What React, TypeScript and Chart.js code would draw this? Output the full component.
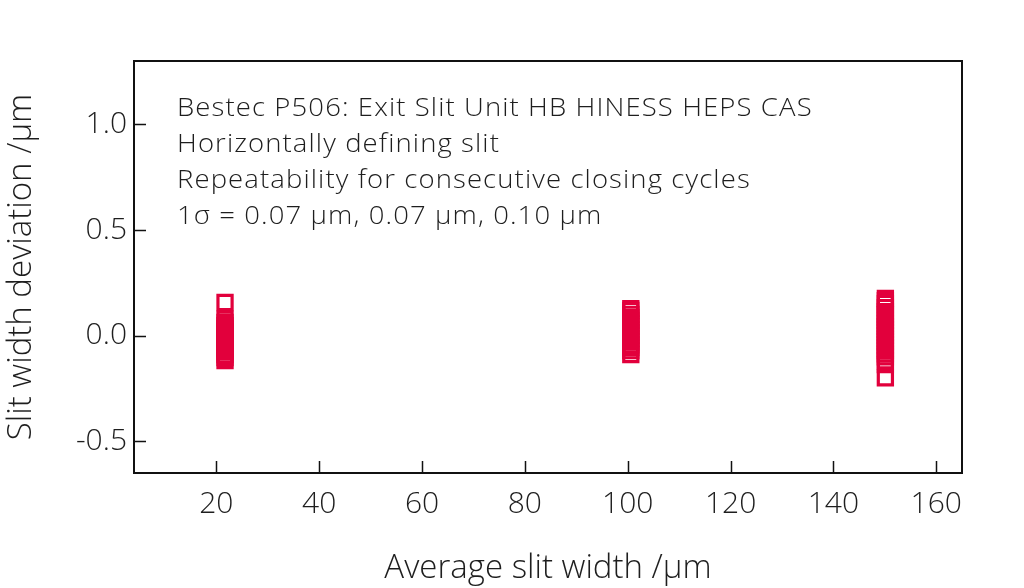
import React, { useEffect, useRef } from "react";
import { Chart, registerables } from "chart.js";

Chart.register(...registerables);

const xTicks = [20, 40, 60, 80, 100, 120, 140, 160];
const yTicks = [-0.5, 0.0, 0.5, 1.0];

const widthA = 21.7;
const widthB = 100.6;
const widthC = 150.1;

const devA = [0.157, 0.078, 0.063, 0.047, 0.034, 0.019, 0.006, -0.009, -0.019, -0.033, -0.046, -0.062, -0.075, -0.090, -0.104, -0.118];
const devB = [0.128, 0.119, 0.101, 0.085, 0.072, 0.056, 0.043, 0.027, 0.014, 0.001, -0.014, -0.029, -0.043, -0.056, -0.071, -0.089];
const devC = [0.176, 0.166, 0.152, 0.133, 0.114, 0.099, 0.086, 0.071, 0.056, 0.043, 0.029, 0.014, 0.000, -0.015, -0.028, -0.043, -0.057, -0.071, -0.086, -0.100, -0.119, -0.137, -0.199];

const noteLines = [
  "Bestec P506: Exit Slit Unit HB HINESS HEPS CAS",
  "Horizontally defining slit",
  "Repeatability for consecutive closing cycles",
  "1\u03c3 = 0.07 \u00b5m, 0.07 \u00b5m, 0.10 \u00b5m",
];

const xTitle = "Average slit width /\u00b5m";
const yTitle = "Slit width deviation /\u00b5m";

const RED = "#e2003c";
const INK = "#1e1e1e";
const FONT = "'Open Sans', 'Liberation Sans', Arial, sans-serif";

export default function App() {
  const ref = useRef<HTMLCanvasElement | null>(null);

  useEffect(() => {
    const canvas = ref.current;
    if (!canvas) return;

    const frame = {
      id: "frame",
      afterDraw(chart: any) {
        const { ctx, chartArea: a, scales } = chart;
        const xs = scales.x;
        const ys = scales.y;
        ctx.save();
        ctx.strokeStyle = "#111";
        ctx.lineWidth = 2;
        ctx.strokeRect(a.left, a.top, a.right - a.left, a.bottom - a.top);
        ctx.beginPath();
        for (const v of xTicks) {
          const px = Math.round(xs.getPixelForValue(v)) + 0.5;
          ctx.moveTo(px, a.bottom);
          ctx.lineTo(px, a.bottom - 12);
        }
        for (const v of yTicks) {
          const py = Math.round(ys.getPixelForValue(v)) + 0.5;
          ctx.moveTo(a.left, py);
          ctx.lineTo(a.left + 12, py);
        }
        ctx.lineWidth = 1.5;
        ctx.stroke();
        ctx.fillStyle = INK;
        ctx.font = `300 25px ${FONT}`;
        (ctx as any).letterSpacing = "1px";
        ctx.textBaseline = "middle";
        ctx.textAlign = "left";
        const x0 = a.left + 43;
        noteLines.forEach((t, i) => {
          ctx.save();
          ctx.translate(x0, a.top + 48 + i * 35.8);
          ctx.scale(1.1, 1);
          ctx.fillText(t, 0, 0);
          ctx.restore();
        });
        ctx.restore();
      },
    };

    const mk = (x: number, arr: number[]) => arr.map((y) => ({ x, y }));

    const chart = new Chart(canvas, {
      type: "scatter",
      data: {
        datasets: [
          { data: mk(widthA, devA) },
          { data: mk(widthB, devB) },
          { data: mk(widthC, devC) },
        ].map((d) => ({
          ...d,
          pointStyle: "rect",
          pointRadius: 10,
          pointHoverRadius: 10,
          pointBorderWidth: 3.2,
          pointBorderColor: RED,
          pointBackgroundColor: "rgba(0,0,0,0)",
          borderColor: RED,
          backgroundColor: "rgba(0,0,0,0)",
        })),
      },
      options: {
        responsive: false,
        animation: false,
        events: [],
        layout: { padding: { top: 61, right: 62, left: 0, bottom: 0 } },
        plugins: {
          legend: { display: false },
          tooltip: { enabled: false },
        },
        scales: {
          x: {
            type: "linear",
            min: 4,
            max: 165,
            grid: { display: false, drawTicks: false },
            border: { display: false },
            afterBuildTicks: (s: any) => {
              s.ticks = xTicks.map((v) => ({ value: v }));
            },
            afterFit: (s: any) => {
              s.height = 115;
            },
            ticks: {
              color: INK,
              padding: 13,
              maxRotation: 0,
              autoSkip: false,
              font: { family: FONT, size: 30, weight: "300" },
              callback: (v: any) => String(v),
            },
            title: {
              display: true,
              text: xTitle,
              color: INK,
              font: { family: FONT, size: 33, weight: "300" },
              padding: { top: 0, bottom: 0 },
            },
          },
          y: {
            type: "linear",
            min: -0.65,
            max: 1.3,
            grid: { display: false, drawTicks: false },
            border: { display: false },
            afterBuildTicks: (s: any) => {
              s.ticks = yTicks.map((v) => ({ value: v }));
            },
            afterFit: (s: any) => {
              s.width = 134;
            },
            ticks: {
              color: INK,
              padding: 7,
              autoSkip: false,
              font: { family: FONT, size: 30, weight: "300" },
              callback: (v: any) => Number(v).toFixed(1),
            },
            title: {
              display: true,
              text: yTitle,
              color: INK,
              font: { family: FONT, size: 33, weight: "300" },
              padding: { top: 2, bottom: 0 },
            },
          },
        },
      },
      plugins: [frame],
    } as any);

    return () => chart.destroy();
  }, []);

  return (
    <div style={{ position: "absolute", left: 0, top: 0, width: 1024, height: 588, background: "#fff" }}>
      <canvas ref={ref} width={1024} height={588} style={{ width: 1024, height: 588, display: "block" }} />
    </div>
  );
}
